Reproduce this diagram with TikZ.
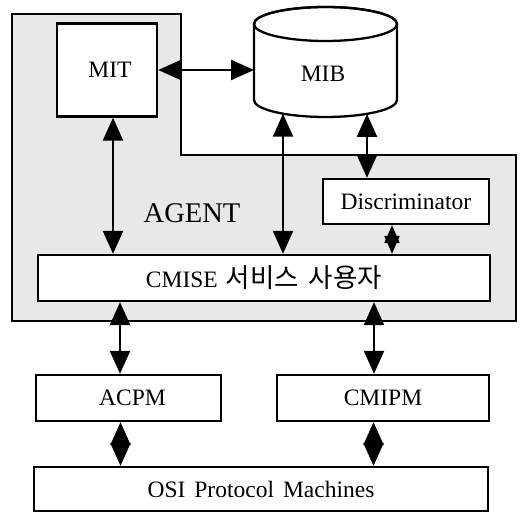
\documentclass[tikz,border=0pt]{standalone}
\usepackage{fontspec}
\setmainfont{Liberation Serif}
\newfontfamily\krfont{Noto Sans CJK KR}
\usetikzlibrary{arrows.meta}
\begin{document}
\begin{tikzpicture}[x=1pt,y=1pt,
  txt/.style={font=\fontsize{23.5}{26}\selectfont},
  box/.style={draw, line width=2.3pt, fill=white, inner sep=0pt, txt},
  lbl/.style={inner sep=0pt, txt},
  dbl/.style={line width=2.2pt, {Triangle[length=23pt,width=20pt]}-{Triangle[length=23pt,width=20pt]}},
  dblsmall/.style={line width=2.2pt, {Triangle[length=18pt,width=15pt]}-{Triangle[length=18pt,width=15pt]}},
  agentzone/.style={draw, line width=2.5pt, fill=black!9, line join=miter},
  cyl/.style={draw, line width=2.3pt, fill=white},
]
\useasboundingbox (0,0) rectangle (522,516);

% agent area (stepped outline)
\path[agentzone] (12,502) -- (181,502) -- (181,361) -- (516,361)
  -- (516,195) -- (12,195) -- cycle;
\node[lbl, font=\fontsize{28.5}{30}\selectfont] (agent) at (192,303) {AGENT};

% MIB cylinder
\path[cyl] (254,492) -- (254,416)
  arc[start angle=180, end angle=360, x radius=71.5pt, y radius=17pt]
  -- (397,492)
  arc[start angle=0, end angle=180, x radius=71.5pt, y radius=17pt] -- cycle;
\draw[line width=2.3pt] (325.5,492) ellipse [x radius=71.5pt, y radius=17pt];
\node[lbl] (MIB) at (323,442) {MIB};
\coordinate (mibW) at (254,446);
\coordinate (mibA) at (283,402.3);
\coordinate (mibB) at (367,402.1);

% boxes
\node[box, minimum width=100pt, minimum height=93pt] (MIT) at (107,446) {\hspace{6pt}MIT};
\node[box, minimum width=166pt, minimum height=45pt] (Disc) at (406,314.5) {Discriminator};
\node[box, minimum width=452pt, minimum height=46pt] (CMISE) at (264,238)
  {CMISE\hspace{8pt}{\krfont\fontsize{26.5}{28}\selectfont 서비스\hspace{10pt}사용자}\hspace{20pt}};
\node[box, minimum width=185pt, minimum height=46pt] (ACPM) at (128.5,118) {\hspace{8pt}ACPM};
\node[box, minimum width=212pt, minimum height=46pt] (CMIPM) at (383,118) {CMIPM\hspace{14pt}};
\node[box, minimum width=454pt, minimum height=44pt] (OSI) at (261,27)
  {OSI\hspace{9pt}Protocol\hspace{9pt}Machines\hspace{54pt}};

% connectors
\draw[dbl] (MIT.east) -- (MIT.east -| mibW);
\draw[dbl] ([xshift=6pt]MIT.south) -- ([xshift=6pt]MIT.south |- CMISE.north);
\draw[dbl] (mibA) -- (mibA |- CMISE.north);
\draw[dbl] (mibB) -- (mibB |- Disc.north);
\draw[dblsmall] ([xshift=-14pt]Disc.south) -- ([xshift=-14pt]Disc.south |- CMISE.north);
\draw[dbl] ([xshift=-8.5pt]ACPM.north |- CMISE.south) -- ([xshift=-8.5pt]ACPM.north);
\draw[dbl] ([xshift=-9pt]CMIPM.north |- CMISE.south) -- ([xshift=-9pt]CMIPM.north);
\draw[dbl] ([xshift=-8pt]ACPM.south) -- ([xshift=-8pt]ACPM.south |- OSI.north);
\draw[dbl] ([xshift=-9.5pt]CMIPM.south) -- ([xshift=-9.5pt]CMIPM.south |- OSI.north);
\end{tikzpicture}
\end{document}
